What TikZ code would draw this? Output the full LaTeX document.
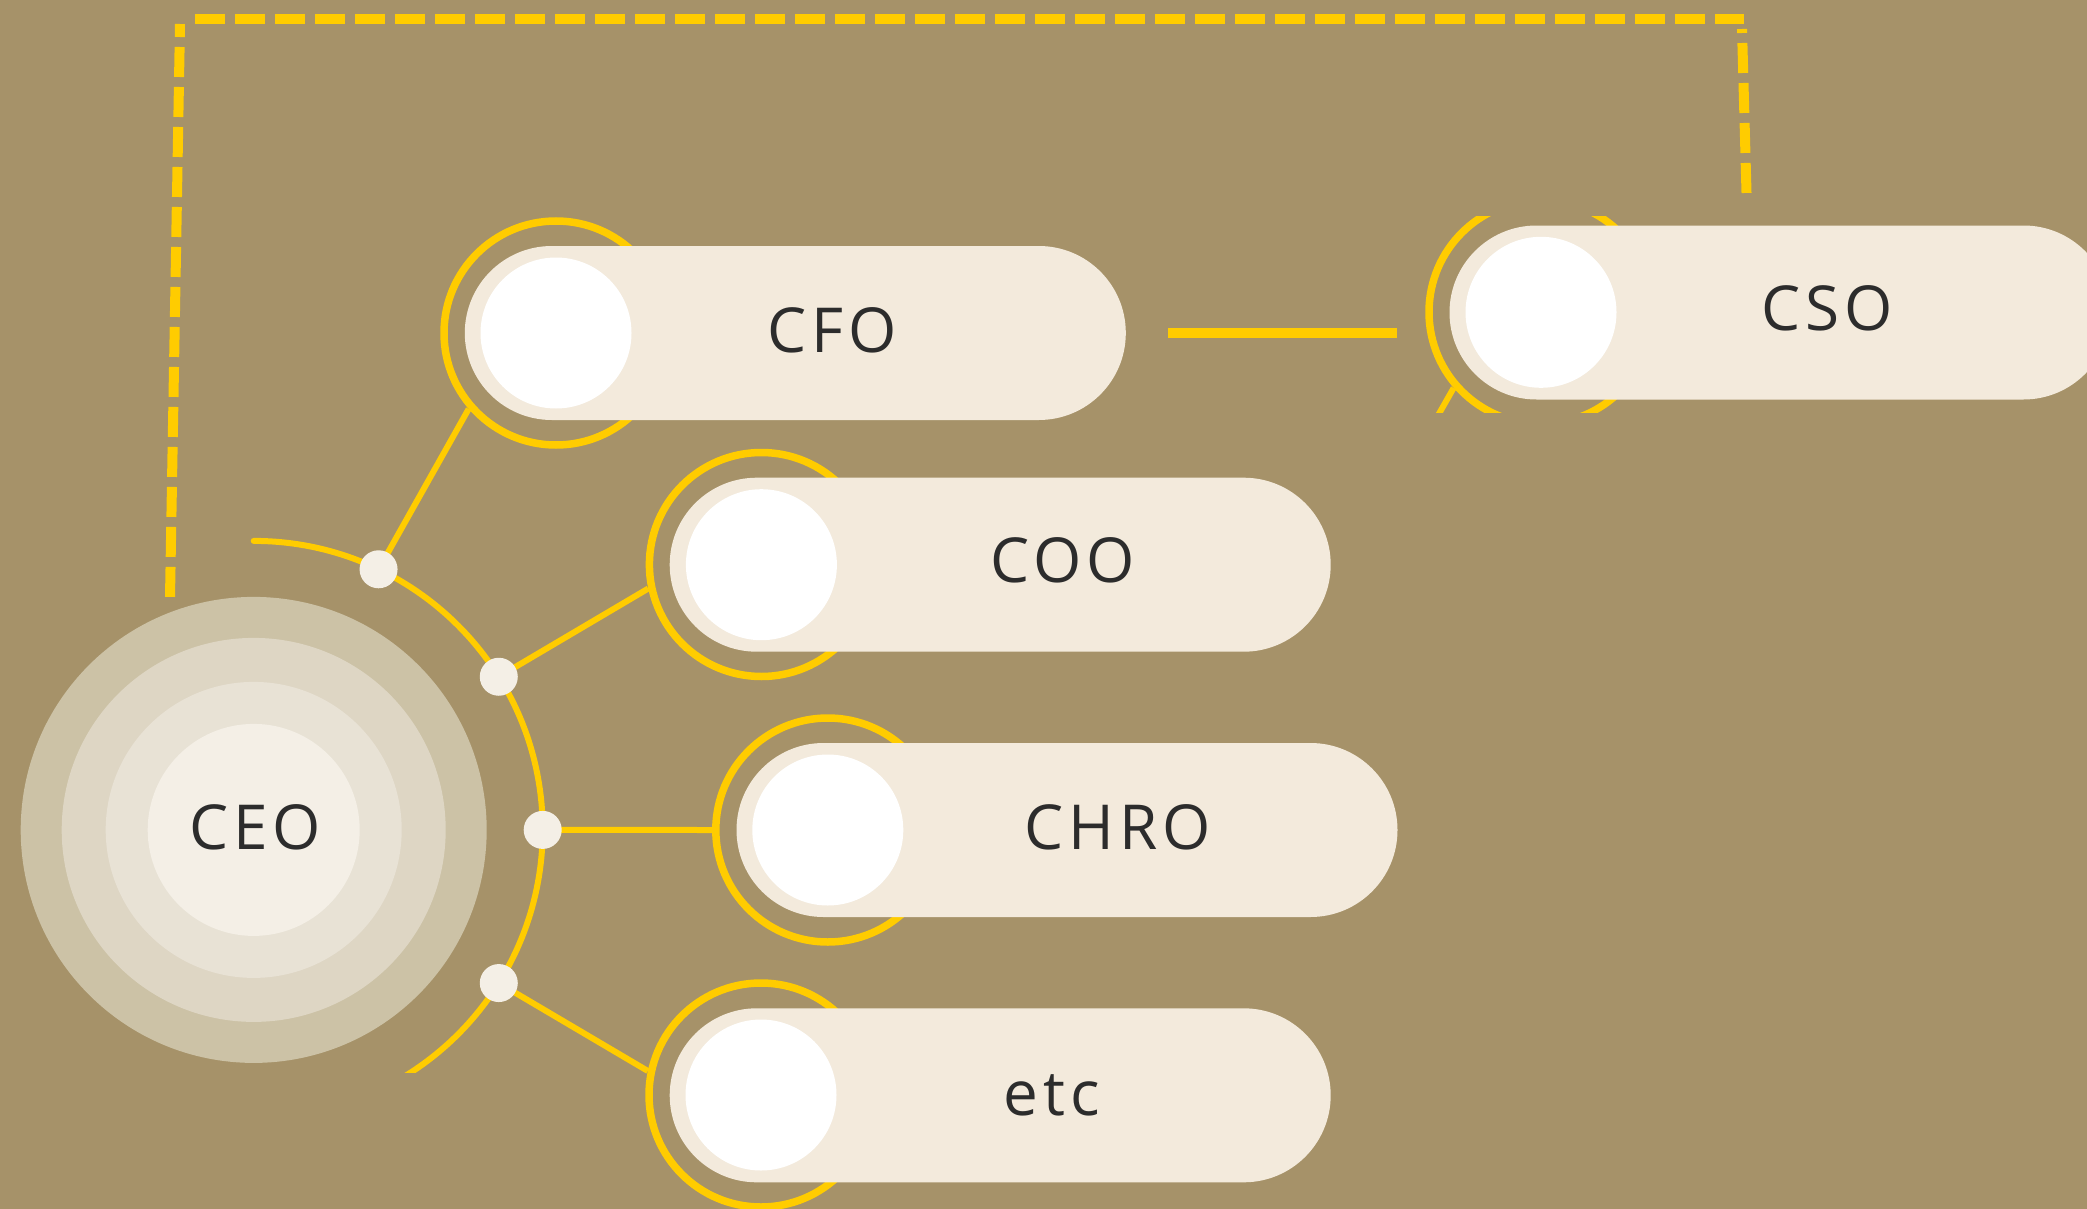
\documentclass[tikz,border=0pt]{standalone}
\usepackage{fontspec}
\newfontfamily\lblfont{Open Sans}[LetterSpace=8]
\usetikzlibrary{calc}
\definecolor{bgc}{RGB}{166,146,105}
\definecolor{yel}{RGB}{255,204,0}
\definecolor{pillc}{RGB}{243,234,220}
\definecolor{dotc}{RGB}{244,239,230}
\definecolor{ceoa}{RGB}{204,194,166}
\definecolor{ceob}{RGB}{222,214,196}
\definecolor{ceoc}{RGB}{232,226,213}
\definecolor{ceod}{RGB}{244,239,230}
\definecolor{txt}{RGB}{44,44,44}
\pgfdeclarelayer{back}
\pgfdeclarelayer{mid}
\pgfsetlayers{back,mid,main}
\begin{document}
\begin{tikzpicture}[x=1pt,y=-1pt,
  ring/.style={circle, draw=yel, line width=7.5pt, minimum size=224pt, inner sep=0pt},
  knob/.style={circle, fill=white, minimum size=151pt, inner sep=0pt},
  pill/.style={rectangle, fill=pillc, rounded corners=87pt, minimum width=661pt, minimum height=174pt, inner sep=0pt},
  lbl/.style={font=\lblfont\fontsize{62}{70}\selectfont, text=txt, anchor=base, inner sep=0pt},
  hub/.style={circle, fill=dotc, minimum size=38pt, inner sep=0pt},
  link/.style={draw=yel, line width=6pt},
  dashline/.style={draw=yel, line width=10pt, dash pattern=on 30pt off 10pt},
  disc/.style={circle, inner sep=0pt},
]
\useasboundingbox (0,0) rectangle (2087,1209);

% ---------- background, dashed frame, CEO discs ----------
\begin{pgfonlayer}{back}
  \fill[bgc] (0,0) rectangle (2087,1209);
  \node[disc, fill=ceoa, minimum size=466pt] (ceo) at (253.7,829.9) {};
  \node[disc, fill=ceob, minimum size=384pt] (ceo2) at (ceo.center) {};
  \node[disc, fill=ceoc, minimum size=296pt] (ceo3) at (ceo.center) {};
  \node[disc, fill=ceod, minimum size=212pt] (ceo4) at (ceo.center) {};
  \coordinate (dl0) at (170,597.5);
  \coordinate (dl1) at (180,24);
  \coordinate (dt0) at (195,19);
  \coordinate (dt1) at (1744,19);
  \coordinate (dr0) at (1742,29);
  \coordinate (dr1) at (1746.5,193);
  \draw[dashline, dash phase=17pt] (dl1) -- (dl0);
  \draw[dashline] (dt0) -- (dt1);
  \draw[dashline, dash phase=26pt] (dr0) -- (dr1);
\end{pgfonlayer}

\node[lbl] (ceolbl) at (255,849) {CEO};

% ---------- hub dots on the arc ----------
\node[hub] (d1) at ($(ceo.center)+(-64.4:289)$) {};
\node[hub] (d2) at ($(ceo.center)+(-32:289)$) {};
\node[hub] (d3) at ($(ceo.center)+(0:289)$) {};
\node[hub] (d4) at ($(ceo.center)+(32:289)$) {};

% ---------- CFO ----------
\node[ring] (cforing) at (556,333) {};
\node[pill] (cfopill) at (795.3,333) {};
\node[knob] (cfoknob) at (556,333) {};
\node[lbl] (cfolbl) at (832,352.7) {CFO};

% ---------- COO ----------
\node[ring] (cooring) at (761.4,564.5) {};
\node[pill] (coopill) at (1000.2,564.7) {};
\node[knob] (cooknob) at (761.4,564.7) {};
\node[lbl] (coolbl) at (1062.5,582) {COO};

% ---------- CHRO ----------
\node[ring] (chroring) at (827.8,830) {};
\node[pill] (chropill) at (1067,830) {};
\node[knob] (chroknob) at (827.8,830) {};
\node[lbl] (chrolbl) at (1118,849) {CHRO};

% ---------- etc ----------
\node[ring] (etcring) at (761,1095) {};
\node[pill] (etcpill) at (1000.2,1095.3) {};
\node[knob] (etcknob) at (761,1095) {};
\node[lbl] (etclbl) at (1052,1115) {etc};

% ---------- CSO (clipped copy) ----------
\begin{scope}
  \clip (1380,216) rectangle (2087,412.3);
  \node[ring] (csoring) at (1541,312) {};
  \draw[link] (csoring.221) -- ++(-91,160);
  \node[pill] (csopill) at (1780,312.5) {};
  \node[knob] (csoknob) at (1541,312.3) {};
  \node[lbl] (csolbl) at (1827.5,330) {CSO};
\end{scope}

% ---------- arc and connectors ----------
\begin{pgfonlayer}{mid}
  \begin{scope}
    \clip (0,0) rectangle (2087,1072);
    \draw[link, line cap=round] ($(ceo.center)+(0,-289)$) arc[start angle=-90, end angle=62, radius=289];
  \end{scope}
  \draw[link] (d1.center) -- (cforing.221);
  \draw[link] (d2.center) -- (cooring.192);
  \draw[link] (d3.center) -- (chroring.180);
  \draw[link] (d4.center) -- (etcring.168);
  \draw[draw=yel, line width=9.3pt] ([xshift=42pt]cfopill.east) -- ([xshift=-28pt]cfopill.east -| csoring.west);
\end{pgfonlayer}
\end{tikzpicture}
\end{document}
